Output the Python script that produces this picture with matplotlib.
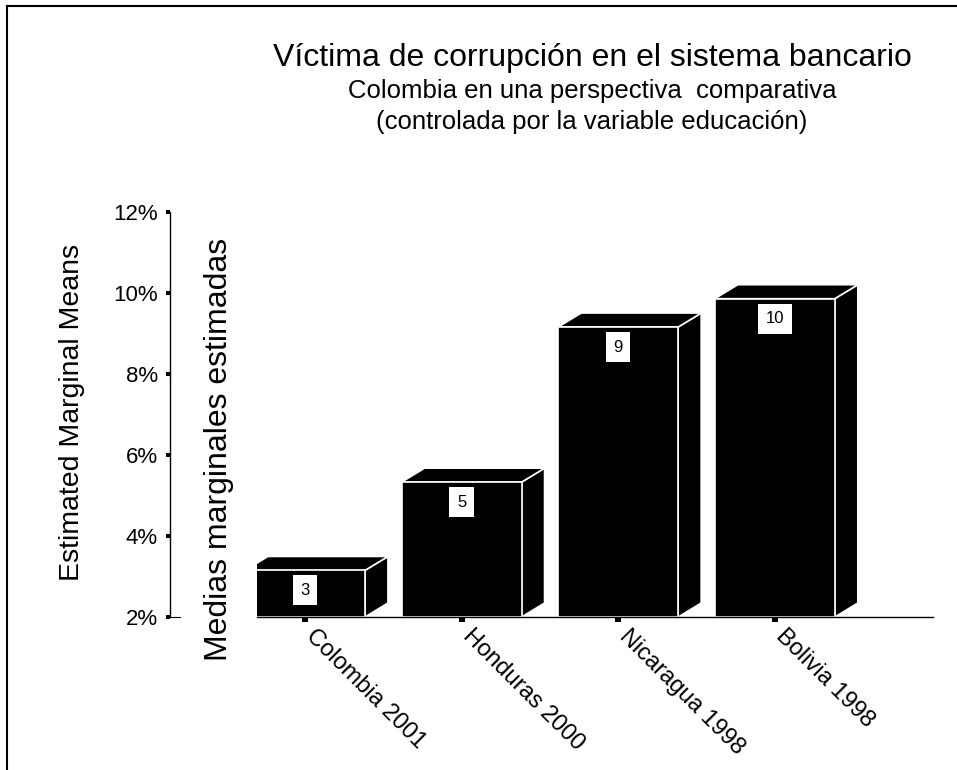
#!/usr/bin/env python3
"""
Estimated marginal means: victims of corruption in the banking system,
Colombia compared with Honduras, Nicaragua and Bolivia (3D-style bars).

Outputs: out.png
"""

import matplotlib
matplotlib.use("Agg")
import matplotlib.pyplot as plt
from matplotlib.patches import Polygon, Rectangle
from matplotlib.lines import Line2D

# Data
countries = ["Colombia 2001", "Honduras 2000", "Nicaragua 1998", "Bolivia 1998"]
means = [3.15, 5.33, 9.16, 9.86]
bar_labels = ["3", "5", "9", "10"]
y_ticks = [2, 4, 6, 8, 10, 12]
y_tick_labels = ["2%", "4%", "6%", "8%", "10%", "12%"]

title = "Víctima de corrupción en el sistema bancario"
subtitle_1 = "Colombia en una perspectiva  comparativa"
subtitle_2 = "(controlada por la variable educación)"


def main():
    plt.rcParams["font.family"] = ["Liberation Sans", "DejaVu Sans"]

    W, H = 957, 770
    fig = plt.figure(figsize=(W / 100, H / 100), dpi=100, facecolor="white")
    ax = fig.add_axes([257 / W, 153 / H, 676 / W, 405 / H])
    ax.set_facecolor("white")
    ax.set_xlim(-0.306, 4.01)
    ax.set_ylim(2, 12)

    # 3D-looking bars: side face, top face, then front face
    bar_w = 0.766
    dx, dy = 0.147, 0.345
    base = y_ticks[0]
    face = dict(facecolor="black", edgecolor="white", linewidth=1.2)
    for i, v in enumerate(means):
        x0 = i - bar_w / 2
        x1 = i + bar_w / 2
        ax.add_patch(Polygon([(x1, base), (x1 + dx, base + dy),
                              (x1 + dx, v + dy), (x1, v)], closed=True, **face))
        ax.add_patch(Polygon([(x0, v), (x0 + dx, v + dy),
                              (x1 + dx, v + dy), (x1, v)], closed=True, **face))
        ax.add_patch(Rectangle((x0, base), bar_w, v - base, **face))

        # value label in a white box
        ax.annotate(
            bar_labels[i],
            xy=(i, v),
            xytext=(0, -20),
            textcoords="offset pixels",
            ha="center",
            va="center",
            fontsize=12,
            color="black",
            bbox=dict(boxstyle="square,pad=0.45", facecolor="white", edgecolor="none"),
        )

    # Spines
    ax.spines["top"].set_visible(False)
    ax.spines["right"].set_visible(False)
    ax.spines["left"].set_position(("outward", 87 * 0.72))
    ax.spines["left"].set_bounds(2, 12)
    ax.spines["left"].set_linewidth(1.0)
    ax.spines["bottom"].set_linewidth(1.0)

    # Y axis
    ax.set_yticks(y_ticks)
    ax.set_yticklabels(y_tick_labels)
    ax.tick_params(axis="y", direction="out", length=2.9, width=2.9,
                   pad=5.8, labelsize=16, colors="black")

    # X axis
    ax.set_xticks(range(len(countries)))
    ax.set_xticklabels(countries)
    ax.tick_params(axis="x", direction="out", length=3.6, width=4.3,
                   pad=11, labelsize=17, colors="black")
    for lbl in ax.get_xticklabels():
        lbl.set_rotation(-45)
        lbl.set_ha("left")
        lbl.set_va("baseline")
        lbl.set_rotation_mode("anchor")

    # short stub at the foot of the y axis
    fig.add_artist(Line2D([171 / W, 180 / W], [153 / H, 153 / H],
                          color="black", linewidth=0.8))

    # Axis titles
    fig.text(219 / W, 1 - 449 / H, "Medias marginales estimadas",
             rotation=90, ha="center", va="center", fontsize=23)
    fig.text(72 / W, 1 - 412 / H, "Estimated Marginal Means",
             rotation=90, ha="center", va="center", fontsize=20.5)

    # Titles
    fig.text(592 / W, 1 - 66 / H, title, ha="center", va="baseline", fontsize=23)
    fig.text(592 / W, 1 - 98 / H, subtitle_1, ha="center", va="baseline", fontsize=18.5)
    fig.text(592 / W, 1 - 129 / H, subtitle_2, ha="center", va="baseline", fontsize=18.5)

    # Outer frame (only left and top edges fall inside the image)
    fig.add_artist(Line2D([7.5 / W, 7.5 / W], [0, 1 - 5.5 / H],
                          color="black", linewidth=1.5))
    fig.add_artist(Line2D([7.5 / W, 1], [1 - 5.5 / H, 1 - 5.5 / H],
                          color="black", linewidth=1.5))

    fig.savefig("out.png", dpi=100, facecolor="white")
    plt.close(fig)


if __name__ == "__main__":
    main()
